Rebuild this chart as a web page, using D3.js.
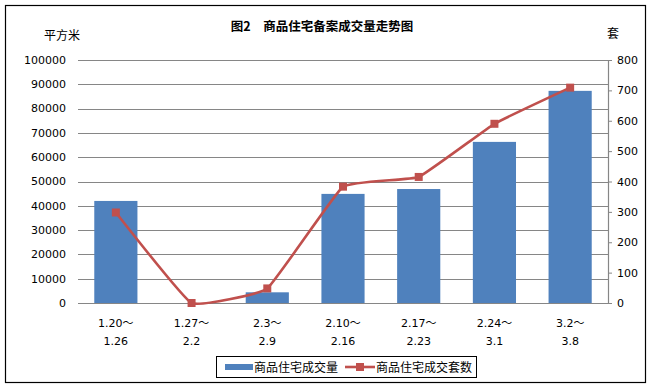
<!DOCTYPE html>
<html>
<head>
<meta charset="utf-8">
<script src="https://cdn.jsdelivr.net/npm/d3@7"></script>
<style>
  body { margin: 0; background: #fff; }
  svg text { font-family: "DejaVu Sans", sans-serif; }
  .cjk { font-family: "Noto Sans CJK SC", sans-serif; }
</style>
</head>
<body>
<div id="chart"></div>
<script>
// week ranges
var weeksFrom = ["1.20", "1.27", "2.3", "2.10", "2.17", "2.24", "3.2"];
var weeksTo = ["1.26", "2.2", "2.9", "2.16", "2.23", "3.1", "3.8"];
// 商品住宅成交量 (平方米)
var area = [42000, 0, 4400, 44900, 46900, 66300, 87300];
// 商品住宅成交套数 (套)
var units = [298, 0, 48, 383, 415, 590, 709];
var leftTicks = d3.range(0, 100001, 10000);
var rightTicks = d3.range(0, 801, 100);

var width = 654, height = 389;
var margin = {top: 60, right: 46, bottom: 86, left: 78};
var chartWidth = width - margin.left - margin.right,
    chartHeight = height - margin.top - margin.bottom;

var svg = d3.select("#chart").append("svg")
  .attr("width", width)
  .attr("height", height);

// outer frame
svg.append("rect")
  .attr("x", 5.5).attr("y", 5.5)
  .attr("width", 640).attr("height", 377)
  .attr("fill", "#fff")
  .attr("stroke", "#000")
  .attr("stroke-width", 1.2);

var chart = svg.append("g")
  .attr("transform", "translate(" + margin.left + "," + margin.top + ")");

var x = d3.scaleBand()
  .domain(d3.range(weeksFrom.length))
  .range([0, chartWidth])
  .paddingInner(0.43)
  .paddingOuter(0.215);

var xc = function(i) { return x(i) + x.bandwidth() / 2; };

var yLeft = d3.scaleLinear().domain([0, 100000]).range([chartHeight, 0]);
var yRight = d3.scaleLinear().domain([0, 800]).range([chartHeight, 0]);

// gridlines
chart.append("g")
  .selectAll("line")
  .data(leftTicks)
  .join("line")
    .attr("x1", 0).attr("x2", chartWidth)
    .attr("y1", function(d) { return Math.round(yLeft(d)) + 0.5; })
    .attr("y2", function(d) { return Math.round(yLeft(d)) + 0.5; })
    .attr("stroke", "#868686")
    .attr("stroke-width", 1);

// left tick labels
chart.append("g")
  .selectAll("text")
  .data(leftTicks)
  .join("text")
    .attr("x", -12)
    .attr("y", function(d) { return yLeft(d); })
    .attr("dy", "0.35em")
    .attr("text-anchor", "end")
    .attr("font-size", 11)
    .attr("fill", "#000")
    .text(function(d) { return d; });

// right axis
var rightAxis = chart.append("g")
  .attr("transform", "translate(" + chartWidth + ",0)")
  .call(d3.axisRight(yRight).tickValues(rightTicks).tickSize(4).tickPadding(5).tickFormat(d3.format("d")));
rightAxis.select(".domain").attr("stroke", "#868686").attr("stroke-width", 1.2);
rightAxis.selectAll(".tick line").attr("stroke", "#868686");
rightAxis.selectAll(".tick text")
  .attr("font-size", 11)
  .attr("font-family", "DejaVu Sans, sans-serif")
  .attr("fill", "#000");

// bars
chart.append("g")
  .selectAll("rect")
  .data(area)
  .join("rect")
    .attr("x", function(d, i) { return x(i); })
    .attr("y", function(d) { return yLeft(d); })
    .attr("width", x.bandwidth())
    .attr("height", function(d) { return chartHeight - yLeft(d); })
    .attr("fill", "#4F81BD");

// bottom line of plot
chart.append("line")
  .attr("x1", 0).attr("x2", chartWidth)
  .attr("y1", chartHeight + 0.5).attr("y2", chartHeight + 0.5)
  .attr("stroke", "#868686");

// lightly smoothed line
var line = d3.line()
  .x(function(d, i) { return xc(i); })
  .y(function(d) { return yRight(d); })
  .curve(d3.curveCardinal.tension(0.7));

chart.append("path")
  .datum(units)
  .attr("d", line)
  .attr("fill", "none")
  .attr("stroke", "#C0504D")
  .attr("stroke-width", 2.6);

chart.append("g")
  .selectAll("rect")
  .data(units)
  .join("rect")
    .attr("x", function(d, i) { return xc(i) - 4; })
    .attr("y", function(d) { return yRight(d) - 4; })
    .attr("width", 8).attr("height", 8)
    .attr("fill", "#C0504D");

// x labels (two lines)
var xl = chart.append("g")
  .selectAll("text")
  .data(weeksFrom)
  .join("text")
    .attr("text-anchor", "middle")
    .attr("font-size", 11)
    .attr("fill", "#000");
var first = xl.append("tspan")
  .attr("x", function(d, i) { return xc(i); })
  .attr("y", chartHeight + 24);
first.append("tspan").text(function(d) { return d; });
first.append("tspan").attr("class", "cjk").text("～");
xl.append("tspan")
  .attr("x", function(d, i) { return xc(i); })
  .attr("y", chartHeight + 42)
  .text(function(d, i) { return weeksTo[i]; });

// titles
svg.append("text")
  .attr("class", "cjk")
  .attr("x", 322).attr("y", 31)
  .attr("text-anchor", "middle")
  .attr("font-size", 12.5)
  .attr("font-weight", "bold")
  .text("图2　商品住宅备案成交量走势图");

svg.append("text")
  .attr("class", "cjk")
  .attr("x", 62).attr("y", 40)
  .attr("text-anchor", "middle")
  .attr("font-size", 12)
  .text("平方米");

svg.append("text")
  .attr("class", "cjk")
  .attr("x", 613).attr("y", 38)
  .attr("text-anchor", "middle")
  .attr("font-size", 12)
  .text("套");

// legend
var legend = svg.append("g").attr("transform", "translate(216,356)");
legend.append("rect")
  .attr("x", 0.5).attr("y", 0.5)
  .attr("width", 260).attr("height", 21)
  .attr("fill", "#fff")
  .attr("stroke", "#000");
legend.append("rect")
  .attr("x", 9).attr("y", 8)
  .attr("width", 28).attr("height", 6)
  .attr("fill", "#4F81BD");
legend.append("text")
  .attr("class", "cjk")
  .attr("x", 38).attr("y", 15.5)
  .attr("font-size", 12)
  .text("商品住宅成交量");
legend.append("line")
  .attr("x1", 129).attr("x2", 159)
  .attr("y1", 11).attr("y2", 11)
  .attr("stroke", "#C0504D").attr("stroke-width", 2.6);
legend.append("rect")
  .attr("x", 140).attr("y", 7)
  .attr("width", 8).attr("height", 8)
  .attr("fill", "#C0504D");
legend.append("text")
  .attr("class", "cjk")
  .attr("x", 160).attr("y", 15.5)
  .attr("font-size", 12)
  .text("商品住宅成交套数");
</script>
</body>
</html>
